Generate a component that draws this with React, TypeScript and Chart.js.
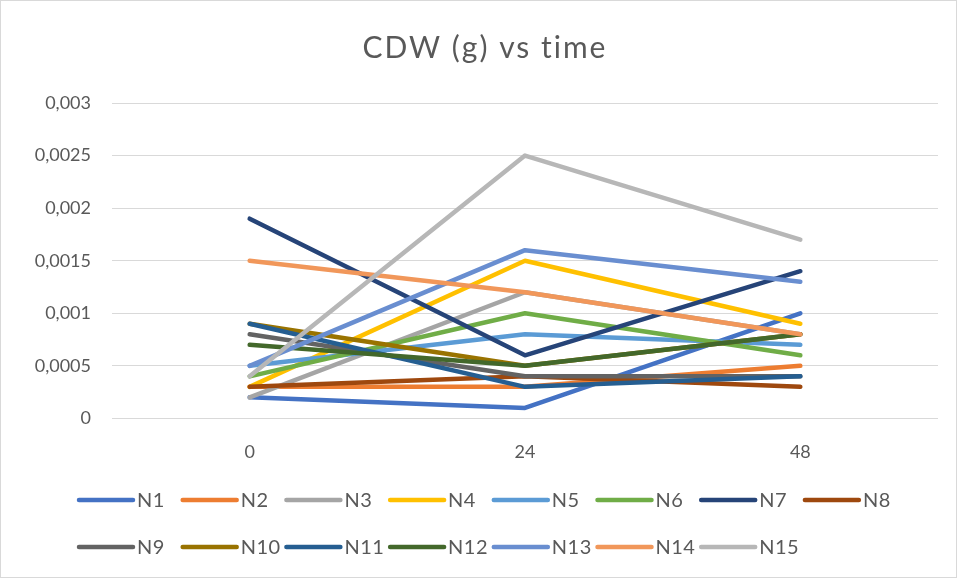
import React, { useEffect, useRef } from "react";
import { Chart, registerables } from "chart.js";

Chart.register(...registerables);

// Sampling times (h)
const times = ["0", "24", "48"];

// Cell dry weight (g) per culture
const n1 = [0.0002, 0.0001, 0.001];
const n2 = [0.0003, 0.0003, 0.0005];
const n3 = [0.0002, 0.0012, 0.0008];
const n4 = [0.0003, 0.0015, 0.0009];
const n5 = [0.0005, 0.0008, 0.0007];
const n6 = [0.0004, 0.001, 0.0006];
const n7 = [0.0019, 0.0006, 0.0014];
const n8 = [0.0003, 0.0004, 0.0003];
const n9 = [0.0008, 0.0004, 0.0004];
const n10 = [0.0009, 0.0005, 0.0008];
const n11 = [0.0009, 0.0003, 0.0004];
const n12 = [0.0007, 0.0005, 0.0008];
const n13 = [0.0005, 0.0016, 0.0013];
const n14 = [0.0015, 0.0012, 0.0008];
const n15 = [0.0004, 0.0025, 0.0017];

const seriesNames = ["N1", "N2", "N3", "N4", "N5", "N6", "N7", "N8", "N9", "N10", "N11", "N12", "N13", "N14", "N15"];
const seriesValues = [n1, n2, n3, n4, n5, n6, n7, n8, n9, n10, n11, n12, n13, n14, n15];
const seriesColors = [
  "#4472C4", "#ED7D31", "#A5A5A5", "#FFC000", "#5B9BD5", "#70AD47", "#264478", "#9E480E",
  "#636363", "#997300", "#255E91", "#43682B", "#698ED0", "#F1975A", "#B7B7B7",
];

const chartTitle = "CDW (g) vs time";

const FONT = "Lato, 'Open Sans', sans-serif";
const TEXT = "#595959";
const GRID = "#d9d9d9";

const formatTick = (v: number) => {
  if (v === 0) return "0";
  return v.toFixed(4).replace(/0+$/, "").replace(".", ",");
};

// Title with wide tracking, plus a legend laid out in fixed-width columns
const titleAndLegend = {
  id: "titleAndLegend",
  afterDraw(chart: Chart) {
    const ctx = chart.ctx as any;
    ctx.save();
    ctx.fillStyle = TEXT;
    ctx.textBaseline = "middle";
    ctx.textAlign = "center";
    ctx.font = `30px ${FONT}`;
    ctx.letterSpacing = "2px";
    ctx.fillText(chartTitle, 484, 47);

    const perRow = 8;
    const x0 = 76;
    const colW = 103.7;
    const rows = [499, 546];
    ctx.font = `20px ${FONT}`;
    ctx.letterSpacing = "0.5px";
    ctx.textAlign = "left";
    chart.data.datasets.forEach((ds: any, i: number) => {
      const x = x0 + (i % perRow) * colW;
      const y = rows[Math.floor(i / perRow)];
      ctx.strokeStyle = ds.borderColor;
      ctx.lineWidth = 4.5;
      ctx.lineCap = "round";
      ctx.beginPath();
      ctx.moveTo(x + 2, y);
      ctx.lineTo(x + 56, y);
      ctx.stroke();
      ctx.fillStyle = TEXT;
      ctx.fillText(ds.label, x + 60, y + 1);
    });
    ctx.restore();
  },
};

export default function App() {
  const ref = useRef<HTMLCanvasElement>(null);

  useEffect(() => {
    document.body.style.margin = "0";
    const canvas = ref.current;
    if (!canvas) return;
    const chart = new Chart(canvas, {
      type: "line",
      data: {
        labels: times,
        datasets: seriesNames.map((name, i) => ({
          label: name,
          data: seriesValues[i],
          borderColor: seriesColors[i],
          backgroundColor: seriesColors[i],
          borderWidth: 4.5,
          borderCapStyle: "round" as const,
          borderJoinStyle: "round" as const,
          pointRadius: 0,
          pointHoverRadius: 0,
          tension: 0,
          fill: false,
          order: seriesNames.length - i,
        })),
      },
      options: {
        responsive: false,
        animation: false,
        layout: { padding: { left: 0, right: 18, top: 102, bottom: 99 } },
        plugins: {
          legend: { display: false },
          tooltip: { enabled: false },
          title: { display: false },
        },
        scales: {
          x: {
            type: "category",
            offset: true,
            grid: { display: false },
            border: { display: false },
            ticks: {
              color: TEXT,
              font: { family: FONT, size: 18 },
              padding: 15,
            },
          },
          y: {
            min: 0,
            max: 0.003,
            grid: { color: GRID, lineWidth: 1, drawTicks: false },
            border: { display: false },
            afterFit: (scale: any) => {
              scale.width = 111;
            },
            ticks: {
              stepSize: 0.0005,
              color: TEXT,
              font: { family: FONT, size: 18 },
              padding: 21,
              callback: (v: any) => formatTick(Number(v)),
            },
          },
        },
      },
      plugins: [titleAndLegend],
    });
    return () => chart.destroy();
  }, []);

  return (
    <div
      style={{
        position: "fixed",
        left: 0,
        top: 0,
        width: 957,
        height: 578,
        boxSizing: "border-box",
        border: `1px solid ${GRID}`,
        background: "#fff",
      }}
    >
      <canvas ref={ref} width={955} height={576} style={{ display: "block" }} />
    </div>
  );
}
